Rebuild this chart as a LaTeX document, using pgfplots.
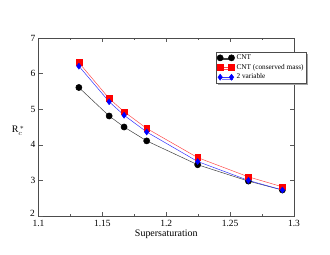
\documentclass[border=0pt]{standalone}
\usepackage{pgfplots}
\pgfplotsset{compat=1.18}
\usepackage{fontspec}
\setmainfont{Liberation Serif}
\usetikzlibrary{shadows}
\begin{document}
\begin{tikzpicture}
\begin{axis}[
  scale only axis,
  width=255.5bp, height=178bp,
  xmin=1.1, xmax=1.3, ymin=2, ymax=7,
  xtick={1.1,1.15,1.2,1.25,1.3},
  minor x tick num=1,
  ytick={3,4,5,6,7},
  extra y ticks={2},
  extra y tick style={yticklabel style={yshift=3bp, xshift=-0.5bp}},
  tick align=inside,
  major tick length=4bp, minor tick length=2bp,
  tick style={gray!70!black, line width=0.4pt},
  axis line style={gray!60!black, line width=0.6pt},
  /pgf/number format/assume math mode=true,
  /pgf/number format/precision=2,
  ticklabel style={font=\fontsize{9.5}{10}\selectfont},
  xticklabel style={yshift=-0.5bp},
  yticklabel style={xshift=0.5bp},
  xlabel={Supersaturation},
  ylabel={R$_{c}^{\,*}$},
  label style={font=\fontsize{10}{11}\selectfont},
  xlabel style={yshift=3bp},
  ylabel style={rotate=-90, at={(axis description cs:-0.08,0.48)}, anchor=center},
  legend cell align=left,
  legend style={at={(0.695,0.923)}, anchor=north west, draw=gray!60!black, fill=white,
    font=\fontsize{7.3}{7.5}\selectfont, inner sep=0.8pt, row sep=-0.8pt,
    drop shadow={shadow xshift=1.8bp, shadow yshift=-1.8bp, fill=gray!70, opacity=1}},
  legend image code/.code={\draw[mark repeat=2,mark phase=1,#1] plot coordinates {(0cm,0cm) (0.2cm,0cm) (0.4cm,0cm)};},
]
\addplot[black!75, line width=0.5pt, mark=*, mark options={fill=black, draw=black, scale=1.55}]
 coordinates {(1.1316,5.61) (1.1553,4.81) (1.1670,4.50) (1.1847,4.11) (1.2246,3.44) (1.2643,2.98) (1.2909,2.73)};
\addlegendentry{CNT}
\addplot[red!70, line width=0.5pt, mark=square*, mark options={fill=red, draw=red, scale=1.45}]
 coordinates {(1.1316,6.31) (1.1553,5.30) (1.1670,4.93) (1.1847,4.46) (1.2246,3.64) (1.2643,3.10) (1.2909,2.82)};
\addlegendentry{CNT (conserved mass)}
\addplot[blue!80, line width=0.5pt, mark=diamond*, mark options={fill=blue, draw=blue, scale=1.5}]
 coordinates {(1.1316,6.21) (1.1553,5.21) (1.1670,4.83) (1.1847,4.36) (1.2246,3.53) (1.2643,3.00) (1.2909,2.73)};
\addlegendentry{2 variable}
\end{axis}
\path[use as bounding box] (current axis.south west) ++(-38.5bp,-39bp) rectangle ++(330bp,255bp);
\end{tikzpicture}
\end{document}
